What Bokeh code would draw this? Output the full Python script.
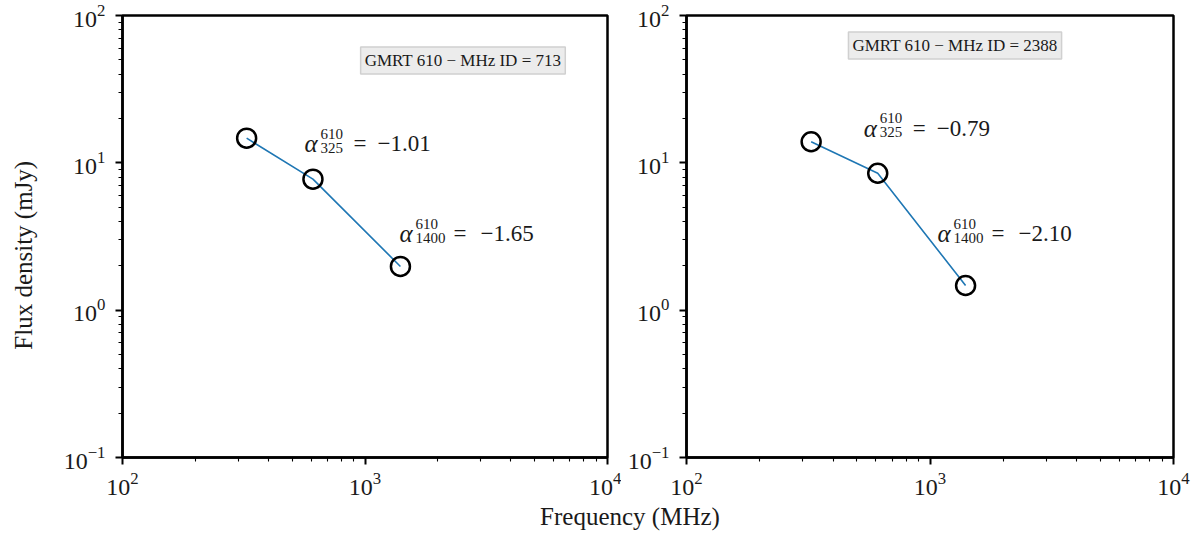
from bokeh.plotting import figure
from bokeh.models import Label, Div, FixedTicker
from bokeh.layouts import row, column
from bokeh.embed import file_html
from bokeh.resources import INLINE
from bokeh.core.properties import value

# ---------------- data ----------------
freq = [325, 610, 1400]                     # MHz
flux_713 = [14.7, 7.75, 1.98]               # mJy
flux_2388 = [13.9, 8.5, 1.47]               # mJy

ids = ["713", "2388"]
alpha_325 = ["\u22121.01", "\u22120.79"]
alpha_1400 = ["\u22121.65", "\u22122.10"]

# annotation anchor positions (data coords)
ann1_pos = [(563, 11.9), (535, 15.1)]
ann2_pos = [(1387, 2.92), (1074, 2.92)]
box_pos = [(2535, 49.5), (1267, 62.5)]

x_range = (1e2, 1e4)
y_range = (1e-1, 1e2)
x_major = [1e2, 1e3, 1e4]
y_major = [1e-1, 1e0, 1e1, 1e2]

FONT = "Liberation Serif"
LINE_COLOR = "#1f77b4"
TXT = "#1a1a1a"
BASE = -8
YLABEL = "Flux density (mJy)" + "\u00a0" * 6


def minors(majors):
    out = []
    for m in majors[:-1]:
        out += [m * k for k in range(2, 10)]
    return out


def make_panel(flux, idx, width, min_left, frame_w, ylabel):
    p = figure(width=width, height=504, x_axis_type="log", y_axis_type="log",
               x_range=x_range, y_range=y_range,
               output_backend="svg", toolbar_location=None,
               min_border_left=min_left, min_border_top=15,
               min_border_bottom=47,
               min_border_right=width - min_left - frame_w)
    p.xgrid.visible = False
    p.ygrid.visible = False
    p.outline_line_color = "black"
    p.outline_line_width = 2.5
    p.outline_line_alpha = 1.0
    p.background_fill_color = "white"
    p.border_fill_color = "white"

    p.xaxis[0].ticker = FixedTicker(ticks=x_major, minor_ticks=minors(x_major))
    p.yaxis[0].ticker = FixedTicker(ticks=y_major, minor_ticks=minors(y_major))
    for ax in (p.xaxis[0], p.yaxis[0]):
        ax.axis_line_width = 2.5
        ax.axis_line_color = "black"
        ax.major_tick_in = 0
        ax.major_tick_out = 7
        ax.minor_tick_in = 0
        ax.minor_tick_out = 4
        ax.major_tick_line_width = 2
        ax.minor_tick_line_width = 1.1
        ax.major_tick_line_color = "black"
        ax.minor_tick_line_color = "black"
        ax.major_label_text_font = FONT
        ax.major_label_text_font_size = "24px"
        ax.major_label_text_color = TXT
        ax.axis_label_text_font = FONT
        ax.axis_label_text_font_size = "25px"
        ax.axis_label_text_font_style = "normal"
        ax.axis_label_text_color = TXT
    p.xaxis[0].major_label_standoff = 8
    p.yaxis[0].major_label_standoff = 10
    if ylabel:
        p.yaxis[0].axis_label = ylabel
        p.yaxis[0].axis_label_standoff = 24

    p.line(freq, flux, line_color=LINE_COLOR, line_width=1.6)
    p.scatter(freq, flux, size=19, fill_color=None, line_color="black",
              line_width=2.5, marker="circle")

    # spectral index annotations
    def alpha_text(pos, sub, val, eq_off, val_off):
        x, y = pos
        p.text([x], [y], text=["\u03b1"], text_font=value(FONT),
               text_font_style="italic", text_font_size="25px", y_offset=BASE,
               text_baseline="alphabetic", text_color=TXT)
        p.text([x], [y], text=["610"], text_font=value(FONT),
               text_font_size="15px", x_offset=16, y_offset=BASE - 10,
               text_baseline="alphabetic", text_color=TXT)
        p.text([x], [y], text=[sub], text_font=value(FONT),
               text_font_size="15px", x_offset=16, y_offset=BASE + 4,
               text_baseline="alphabetic", text_color=TXT)
        p.text([x], [y], text=["="], text_font=value(FONT),
               text_font_size="23px", x_offset=eq_off, y_offset=BASE,
               text_baseline="alphabetic", text_color=TXT)
        p.text([x], [y], text=[val], text_font=value(FONT),
               text_font_size="23px", x_offset=val_off, y_offset=BASE,
               text_baseline="alphabetic", text_color=TXT)

    alpha_text(ann1_pos[idx], "325", alpha_325[idx], 49, 73)
    alpha_text(ann2_pos[idx], "1400", alpha_1400[idx], 54, 81)

    bx, by = box_pos[idx]
    lab = Label(x=bx, y=by, text="GMRT 610 \u2212 MHz ID = " + ids[idx],
                text_font=FONT, text_font_size="17px", text_color=TXT,
                text_align="center", text_baseline="middle",
                background_fill_color="#ececec", background_fill_alpha=1.0,
                border_line_color="#d0d0d0", border_line_width=1.5,
                padding=4)
    p.add_layout(lab)
    return p


p1 = make_panel(flux_713, 0, 621, 122, 485, YLABEL)
p2 = make_panel(flux_2388, 1, 576, 65, 487, None)

xlabel = Div(text='<div style="width:1186px; box-sizing:border-box; padding-left:74px; '
                  'text-align:center; font-family:\'Liberation Serif\'; '
                  'font-size:25px; color:#1a1a1a; line-height:26px;">Frequency (MHz)</div>',
             width=1186, height=28, margin=0)

layout = column(row(p1, p2, spacing=0), xlabel, spacing=0)

open("out.html", "w").write(file_html(layout, INLINE))
